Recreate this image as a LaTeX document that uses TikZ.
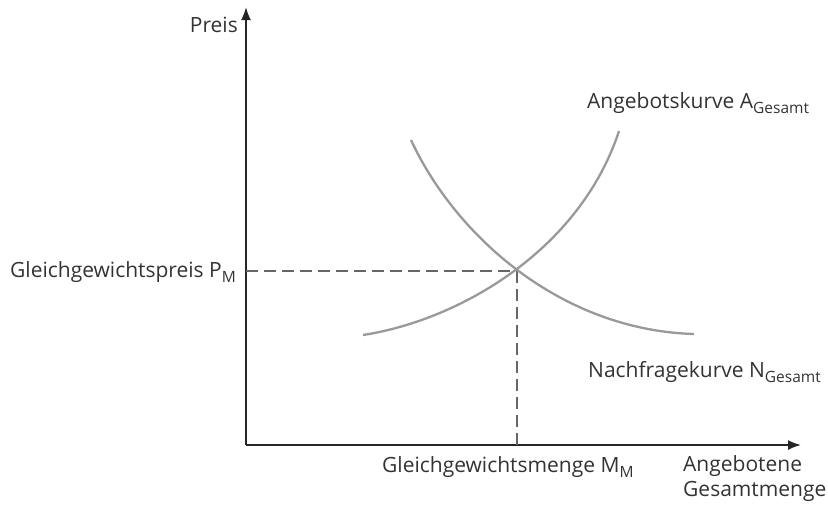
\documentclass[tikz,border=0pt]{standalone}
\usepackage{fontspec}
\setmainfont{Open Sans}
\usetikzlibrary{arrows.meta}
\newcommand\lowsub[1]{\raisebox{-0.45ex}{\fontsize{15.5}{16}\selectfont #1}}
\definecolor{txt}{HTML}{333333}
\definecolor{curve}{HTML}{999999}
\definecolor{dash}{HTML}{666666}
\tikzset{
  axis/.style={line width=1.8pt, draw=black!85, -{Latex[length=13pt,width=10pt]}},
  kurve/.style={line width=2.3pt, draw=curve},
  hilfs/.style={line width=2.3pt, draw=dash, dash pattern=on 12pt off 6pt},
  lbl/.style={font=\fontsize{21}{25}\selectfont, text=txt, inner sep=0pt},
}
\begin{document}
\begin{tikzpicture}[x=1pt,y=-1pt]
\useasboundingbox (0,0) rectangle (828,507);
\coordinate (O) at (246,445);
\coordinate (ytop) at (246,7);
\coordinate (xend) at (801,445);
\coordinate (E) at (517,271);
\coordinate (Ey) at (246,271);
\coordinate (Ex) at (517,445);
\coordinate (S0) at (363,335);
\coordinate (S1) at (619,131);
\coordinate (D0) at (411,140);
\coordinate (D1) at (694,334);
\draw[axis] (O) -- (ytop);
\draw[axis] (O) -- (xend);
\draw[hilfs] (Ey) -- (E);
\draw[hilfs] (E) -- (Ex);
\draw[kurve] (S0) .. controls (460,320) and (580,250) .. (S1);
\draw[kurve] (D0) .. controls (455,235) and (560,330) .. (D1);
\node[lbl, anchor=east] (preis) at (238,25) {Preis};
\node[lbl, anchor=west] (ang) at (587,103) {Angebotskurve A\lowsub{Gesamt}};
\node[lbl, anchor=west] (gp) at (10,272) {Gleichgewichtspreis P\lowsub{M}};
\node[lbl, anchor=west] (nach) at (588,372) {Nachfragekurve N\lowsub{Gesamt}};
\node[lbl, anchor=west] (gm) at (382,467) {Gleichgewichtsmenge M\lowsub{M}};
\node[lbl, anchor=north west, align=left] (menge) at (683,455) {Angebotene\\Gesamtmenge};
\end{tikzpicture}
\end{document}
